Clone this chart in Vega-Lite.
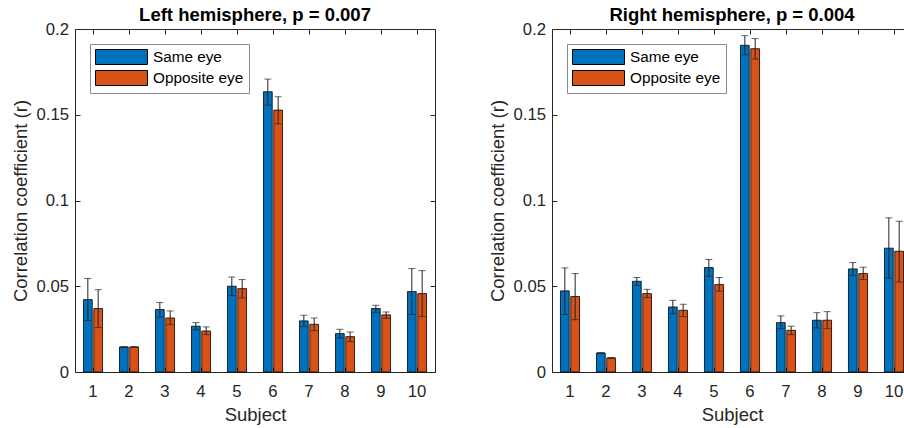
{
  "$schema": "https://vega.github.io/schema/vega-lite/v6.json",
  "padding": {"left": 10, "top": 5, "right": 0, "bottom": 0},
  "background": "white",
  "config": {
    "font": "Liberation Sans",
    "view": {"stroke": "#262626", "strokeWidth": 1},
    "axis": {"grid": false, "domain": false, "tickSize": -5, "tickColor": "#262626", "labelColor": "#262626", "titleColor": "#262626", "labelFontSize": 16.7, "titleFontSize": 18.5, "titleFontWeight": "normal", "labelFont": "Liberation Sans", "titleFont": "Liberation Sans"},
    "title": {"fontSize": 18.5, "fontWeight": "bold", "color": "#000", "offset": -3, "font": "Liberation Sans"},
    "legend": {"labelFontSize": 15.3, "labelColor": "#000", "labelFont": "Liberation Sans"}
  },
  "data": {"values": [
    {"hemi": "Left", "subject": 1, "eye": "Same eye", "r": 0.0422, "lo": 0.030, "hi": 0.0545},
    {"hemi": "Left", "subject": 1, "eye": "Opposite eye", "r": 0.037, "lo": 0.0259, "hi": 0.048},
    {"hemi": "Left", "subject": 2, "eye": "Same eye", "r": 0.0146, "lo": 0.0145, "hi": 0.0147},
    {"hemi": "Left", "subject": 2, "eye": "Opposite eye", "r": 0.0146, "lo": 0.0145, "hi": 0.0147},
    {"hemi": "Left", "subject": 3, "eye": "Same eye", "r": 0.0364, "lo": 0.032, "hi": 0.0405},
    {"hemi": "Left", "subject": 3, "eye": "Opposite eye", "r": 0.0315, "lo": 0.0276, "hi": 0.0356},
    {"hemi": "Left", "subject": 4, "eye": "Same eye", "r": 0.0267, "lo": 0.0245, "hi": 0.0288},
    {"hemi": "Left", "subject": 4, "eye": "Opposite eye", "r": 0.0239, "lo": 0.0218, "hi": 0.0263},
    {"hemi": "Left", "subject": 5, "eye": "Same eye", "r": 0.050, "lo": 0.0446, "hi": 0.0554},
    {"hemi": "Left", "subject": 5, "eye": "Opposite eye", "r": 0.0486, "lo": 0.0432, "hi": 0.0539},
    {"hemi": "Left", "subject": 6, "eye": "Same eye", "r": 0.1634, "lo": 0.1556, "hi": 0.1708},
    {"hemi": "Left", "subject": 6, "eye": "Opposite eye", "r": 0.1527, "lo": 0.1447, "hi": 0.1605},
    {"hemi": "Left", "subject": 7, "eye": "Same eye", "r": 0.0298, "lo": 0.0265, "hi": 0.0331},
    {"hemi": "Left", "subject": 7, "eye": "Opposite eye", "r": 0.0278, "lo": 0.0241, "hi": 0.0315},
    {"hemi": "Left", "subject": 8, "eye": "Same eye", "r": 0.0224, "lo": 0.0198, "hi": 0.0249},
    {"hemi": "Left", "subject": 8, "eye": "Opposite eye", "r": 0.0206, "lo": 0.0177, "hi": 0.0233},
    {"hemi": "Left", "subject": 9, "eye": "Same eye", "r": 0.037, "lo": 0.0348, "hi": 0.0389},
    {"hemi": "Left", "subject": 9, "eye": "Opposite eye", "r": 0.0333, "lo": 0.0313, "hi": 0.035},
    {"hemi": "Left", "subject": 10, "eye": "Same eye", "r": 0.0469, "lo": 0.0335, "hi": 0.0603},
    {"hemi": "Left", "subject": 10, "eye": "Opposite eye", "r": 0.0457, "lo": 0.0323, "hi": 0.0591},
    {"hemi": "Right", "subject": 1, "eye": "Same eye", "r": 0.0473, "lo": 0.0335, "hi": 0.0607},
    {"hemi": "Right", "subject": 1, "eye": "Opposite eye", "r": 0.044, "lo": 0.0305, "hi": 0.0574},
    {"hemi": "Right", "subject": 2, "eye": "Same eye", "r": 0.0111, "lo": 0.011, "hi": 0.0112},
    {"hemi": "Right", "subject": 2, "eye": "Opposite eye", "r": 0.0082, "lo": 0.0081, "hi": 0.0083},
    {"hemi": "Right", "subject": 3, "eye": "Same eye", "r": 0.0529, "lo": 0.0504, "hi": 0.0551},
    {"hemi": "Right", "subject": 3, "eye": "Opposite eye", "r": 0.0457, "lo": 0.0434, "hi": 0.0482},
    {"hemi": "Right", "subject": 4, "eye": "Same eye", "r": 0.0379, "lo": 0.034, "hi": 0.0418},
    {"hemi": "Right", "subject": 4, "eye": "Opposite eye", "r": 0.036, "lo": 0.0323, "hi": 0.0395},
    {"hemi": "Right", "subject": 5, "eye": "Same eye", "r": 0.0609, "lo": 0.0558, "hi": 0.0656},
    {"hemi": "Right", "subject": 5, "eye": "Opposite eye", "r": 0.051, "lo": 0.0471, "hi": 0.0551},
    {"hemi": "Right", "subject": 6, "eye": "Same eye", "r": 0.1905, "lo": 0.185, "hi": 0.1961},
    {"hemi": "Right", "subject": 6, "eye": "Opposite eye", "r": 0.1885, "lo": 0.1825, "hi": 0.1944},
    {"hemi": "Right", "subject": 7, "eye": "Same eye", "r": 0.0288, "lo": 0.0253, "hi": 0.0327},
    {"hemi": "Right", "subject": 7, "eye": "Opposite eye", "r": 0.0243, "lo": 0.0218, "hi": 0.0267},
    {"hemi": "Right", "subject": 8, "eye": "Same eye", "r": 0.0302, "lo": 0.0257, "hi": 0.0346},
    {"hemi": "Right", "subject": 8, "eye": "Opposite eye", "r": 0.0302, "lo": 0.0253, "hi": 0.0352},
    {"hemi": "Right", "subject": 9, "eye": "Same eye", "r": 0.0601, "lo": 0.0562, "hi": 0.0638},
    {"hemi": "Right", "subject": 9, "eye": "Opposite eye", "r": 0.0574, "lo": 0.0539, "hi": 0.0611},
    {"hemi": "Right", "subject": 10, "eye": "Same eye", "r": 0.0722, "lo": 0.0547, "hi": 0.0899},
    {"hemi": "Right", "subject": 10, "eye": "Opposite eye", "r": 0.0704, "lo": 0.0525, "hi": 0.0879}
  ]},
  "spacing": 51,
  "hconcat": [
    {
      "title": "Left hemisphere, p = 0.007",
      "width": 360,
      "height": 343,
      "transform": [{"filter": "datum.hemi === 'Left'"}],
      "resolve": {"axis": {"x": "independent", "y": "independent"}},
      "layer": [
        {
          "mark": {"type": "bar", "stroke": "#000", "strokeWidth": 0.8},
          "encoding": {
            "x": {"field": "subject", "type": "ordinal", "scale": {"paddingInner": 0.47, "paddingOuter": 0.235}, "axis": {"orient": "bottom", "title": "Subject", "labelAngle": 0, "labelPadding": 16, "titlePadding": 6}},
            "xOffset": {"field": "eye", "type": "nominal", "scale": {"domain": ["Same eye", "Opposite eye"], "paddingInner": 0.15}},
            "y": {"field": "r", "type": "quantitative", "scale": {"domain": [0, 0.2], "nice": false}, "axis": {"orient": "left", "title": "Correlation coefficient (r)", "values": [0, 0.05, 0.1, 0.15, 0.2], "format": ".2~f", "labelPadding": 11.5, "titlePadding": 6}},
            "color": {"field": "eye", "type": "nominal", "scale": {"domain": ["Same eye", "Opposite eye"], "range": ["#0072BD", "#D95319"]},
              "legend": {"title": null, "orient": "top-left", "offset": 15, "padding": 5, "strokeColor": "#8a8a8a", "fillColor": "#ffffff", "symbolType": "M-1,-1H5.93V1H-1Z", "symbolSize": 225, "symbolStrokeColor": "#000", "symbolStrokeWidth": 1, "symbolOpacity": 1, "labelOffset": 42, "rowPadding": 1}}
          }
        },
        {
          "mark": {"type": "rule", "color": "#222", "strokeWidth": 1},
          "encoding": {
            "x": {"field": "subject", "type": "ordinal", "axis": null},
            "xOffset": {"field": "eye", "type": "nominal", "scale": {"domain": ["Same eye", "Opposite eye"]}},
            "y": {"field": "lo", "type": "quantitative", "axis": null},
            "y2": {"field": "hi"}
          }
        },
        {
          "mark": {"type": "tick", "color": "#222", "thickness": 1, "size": 7, "orient": "horizontal"},
          "encoding": {
            "x": {"field": "subject", "type": "ordinal", "axis": null},
            "xOffset": {"field": "eye", "type": "nominal", "scale": {"domain": ["Same eye", "Opposite eye"]}},
            "y": {"field": "lo", "type": "quantitative", "axis": null}
          }
        },
        {
          "mark": {"type": "tick", "color": "#222", "thickness": 1, "size": 7, "orient": "horizontal"},
          "encoding": {
            "x": {"field": "subject", "type": "ordinal", "axis": {"orient": "top", "labels": false, "title": null}},
            "xOffset": {"field": "eye", "type": "nominal", "scale": {"domain": ["Same eye", "Opposite eye"]}},
            "y": {"field": "hi", "type": "quantitative", "axis": {"orient": "right", "labels": false, "title": null, "values": [0, 0.05, 0.1, 0.15, 0.2]}}
          }
        }
      ]
    },
    {
      "title": "Right hemisphere, p = 0.004",
      "width": 360,
      "height": 343,
      "transform": [{"filter": "datum.hemi === 'Right'"}],
      "resolve": {"axis": {"x": "independent", "y": "independent"}},
      "layer": [
        {
          "mark": {"type": "bar", "stroke": "#000", "strokeWidth": 0.8},
          "encoding": {
            "x": {"field": "subject", "type": "ordinal", "scale": {"paddingInner": 0.47, "paddingOuter": 0.235}, "axis": {"orient": "bottom", "title": "Subject", "labelAngle": 0, "labelPadding": 16, "titlePadding": 6}},
            "xOffset": {"field": "eye", "type": "nominal", "scale": {"domain": ["Same eye", "Opposite eye"], "paddingInner": 0.15}},
            "y": {"field": "r", "type": "quantitative", "scale": {"domain": [0, 0.2], "nice": false}, "axis": {"orient": "left", "title": "Correlation coefficient (r)", "values": [0, 0.05, 0.1, 0.15, 0.2], "format": ".2~f", "labelPadding": 11.5, "titlePadding": 6}},
            "color": {"field": "eye", "type": "nominal", "scale": {"domain": ["Same eye", "Opposite eye"], "range": ["#0072BD", "#D95319"]},
              "legend": {"title": null, "orient": "top-left", "offset": 15, "padding": 5, "strokeColor": "#8a8a8a", "fillColor": "#ffffff", "symbolType": "M-1,-1H5.93V1H-1Z", "symbolSize": 225, "symbolStrokeColor": "#000", "symbolStrokeWidth": 1, "symbolOpacity": 1, "labelOffset": 42, "rowPadding": 1}}
          }
        },
        {
          "mark": {"type": "rule", "color": "#222", "strokeWidth": 1},
          "encoding": {
            "x": {"field": "subject", "type": "ordinal", "axis": null},
            "xOffset": {"field": "eye", "type": "nominal", "scale": {"domain": ["Same eye", "Opposite eye"]}},
            "y": {"field": "lo", "type": "quantitative", "axis": null},
            "y2": {"field": "hi"}
          }
        },
        {
          "mark": {"type": "tick", "color": "#222", "thickness": 1, "size": 7, "orient": "horizontal"},
          "encoding": {
            "x": {"field": "subject", "type": "ordinal", "axis": null},
            "xOffset": {"field": "eye", "type": "nominal", "scale": {"domain": ["Same eye", "Opposite eye"]}},
            "y": {"field": "lo", "type": "quantitative", "axis": null}
          }
        },
        {
          "mark": {"type": "tick", "color": "#222", "thickness": 1, "size": 7, "orient": "horizontal"},
          "encoding": {
            "x": {"field": "subject", "type": "ordinal", "axis": {"orient": "top", "labels": false, "title": null}},
            "xOffset": {"field": "eye", "type": "nominal", "scale": {"domain": ["Same eye", "Opposite eye"]}},
            "y": {"field": "hi", "type": "quantitative", "axis": {"orient": "right", "labels": false, "title": null, "values": [0, 0.05, 0.1, 0.15, 0.2]}}
          }
        }
      ]
    }
  ],
  "resolve": {"legend": {"color": "independent"}}
}
